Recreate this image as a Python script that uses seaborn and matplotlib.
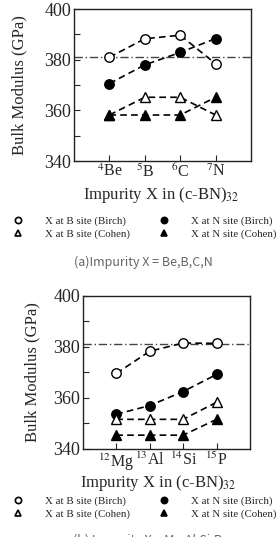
import matplotlib
matplotlib.use('Agg')
import matplotlib.pyplot as plt
from matplotlib.lines import Line2D
import seaborn as sns

# panel (a): X = Be, B, C, N
labels_a = [r'$^{4}$Be', r'$^{5}$B', r'$^{6}$C', r'$^{7}$N']
b_birch_a = [381.0, 388.3, 389.7, 378.4]
n_birch_a = [370.6, 378.0, 382.9, 388.4]
b_cohen_a = [358.2, 365.2, 365.2, 358.2]
n_cohen_a = [358.2, 358.2, 358.2, 365.2]

# panel (b): X = Mg, Al, Si, P
labels_b = [r'$^{12}$Mg', r'$^{13}$Al', r'$^{14}$Si', r'$^{15}$P']
b_birch_b = [369.6, 378.3, 381.5, 381.4]
n_birch_b = [353.6, 357.0, 362.5, 369.2]
b_cohen_b = [351.6, 351.6, 351.6, 358.3]
n_cohen_b = [345.4, 345.4, 345.4, 351.6]

ref_value = 381.0
yticks = [340, 360, 380, 400]

sns.set_style('ticks')
plt.rcParams['font.family'] = ['Liberation Serif', 'DejaVu Serif']
plt.rcParams['mathtext.fontset'] = 'stix'
plt.rcParams['xtick.direction'] = 'in'
plt.rcParams['ytick.direction'] = 'in'

fig = plt.figure(figsize=(2.79, 5.37), dpi=100)
ax_a = fig.add_axes([0.265, 0.700, 0.635, 0.283])
ax_b = fig.add_axes([0.297, 0.164, 0.599, 0.285])

styles = [('o', 'white'), ('o', 'black'), ('^', 'white'), ('^', 'black')]


def draw_panel(ax, labels, series):
    xs = list(range(len(labels)))
    ax.axhline(ref_value, color='#444444', lw=1.0, ls=(0, (6, 2, 1, 2)), zorder=1)
    for vals, (mk, fc) in zip(series, styles):
        sns.lineplot(x=xs, y=vals, ax=ax, color='black', lw=1.2,
                     linestyle=(0, (4, 2.5)), marker=mk, markersize=6.8,
                     markerfacecolor=fc, markeredgecolor='black',
                     markeredgewidth=1.0, legend=False, zorder=3)
    ax.set_xlim(-1, 4)
    ax.set_ylim(340, 400)
    ax.set_xticks(xs)
    ax.set_xticklabels(labels, fontsize=11.5)
    ax.set_yticks(yticks)
    ax.set_yticks([350, 370, 390], minor=True)
    ax.tick_params(axis='y', labelsize=13, length=4, width=0.8, pad=2)
    ax.tick_params(axis='y', which='minor', length=4, width=0.8)
    ax.tick_params(axis='x', length=4, width=0.8, pad=2)
    for sp in ax.spines.values():
        sp.set_linewidth(1.0)
        sp.set_color('#222222')
    ax.set_ylabel('Bulk Modulus (GPa)', fontsize=12)
    ax.set_xlabel(r'Impurity X in (c-BN)$_{32}$', fontsize=12)


draw_panel(ax_a, labels_a, [b_birch_a, n_birch_a, b_cohen_a, n_cohen_a])
draw_panel(ax_b, labels_b, [b_birch_b, n_birch_b, b_cohen_b, n_cohen_b])
ax_a.yaxis.set_label_coords(-0.265, 0.5)
ax_b.yaxis.set_label_coords(-0.255, 0.5)
ax_a.xaxis.set_label_coords(0.49, -0.16)
ax_b.xaxis.set_label_coords(0.45, -0.155)

names = ['X at B site (Birch)', 'X at B site (Cohen)',
         'X at N site (Birch)', 'X at N site (Cohen)']
order = [0, 2, 1, 3]
handles = [Line2D([], [], ls='none', marker=styles[i][0], markersize=4.5,
                  markerfacecolor=styles[i][1], markeredgecolor='black',
                  markeredgewidth=1.2) for i in order]

for ypos in [1 - 216 / 537, 1 - 496 / 537]:
    fig.legend(handles, names, loc='upper left', bbox_to_anchor=(0.045, ypos),
               ncol=2, frameon=False, fontsize=7.8, handlelength=1.0,
               handletextpad=2.0, columnspacing=2.6, labelspacing=0.3,
               borderaxespad=0, borderpad=0)

fig.text(0.513, 1 - 262 / 537, '(a)Impurity X = Be,B,C,N', ha='center',
         va='center', fontsize=9, color='#666666',
         family=['Noto Sans CJK SC', 'DejaVu Sans'], fontweight='light')
fig.text(0.53, 1 - 534 / 537, '(b) Impurity X = Mg,Al,Si,P', ha='center',
         va='top', fontsize=9, color='#666666',
         family=['Noto Sans CJK SC', 'DejaVu Sans'], fontweight='light')

fig.savefig('out.png', dpi=100)
